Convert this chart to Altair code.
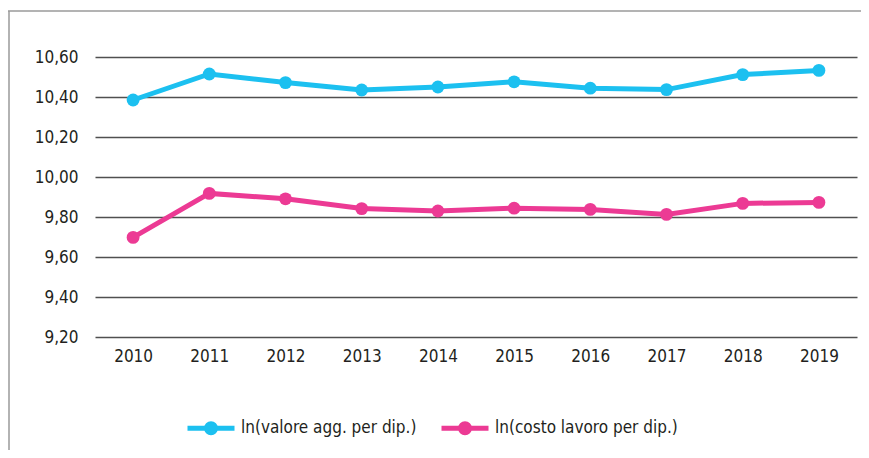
import altair as alt
import pandas as pd

years = ["2010", "2011", "2012", "2013", "2014", "2015", "2016", "2017", "2018", "2019"]
valore = [10.385, 10.515, 10.472, 10.435, 10.45, 10.476, 10.444, 10.437, 10.512, 10.533]
costo = [9.698, 9.918, 9.891, 9.842, 9.830, 9.844, 9.838, 9.813, 9.868, 9.873]
series_names = ["ln(valore agg. per dip.)", "ln(costo lavoro per dip.)"]
series_colors = ["#1cc0f0", "#ec3a94"]
y_ticks = [9.2, 9.4, 9.6, 9.8, 10.0, 10.2, 10.4, 10.6]

rows = []
for name, vals in zip(series_names, [valore, costo]):
    for yr, v in zip(years, vals):
        rows.append({"anno": yr, "serie": name, "valore": v})
df = pd.DataFrame(rows)

FONT = "DejaVu Sans Condensed, sans-serif"
TXT = "#231f20"
FS = 17

# legend symbol: line with a dot (stroke-only path)
sym = ("M-1,0 L1,0 "
       "M-0.19,0 A0.19,0.19 0 1,1 0.19,0 A0.19,0.19 0 1,1 -0.19,0 "
       "M-0.065,0 A0.065,0.065 0 1,1 0.065,0 A0.065,0.065 0 1,1 -0.065,0")

lines = alt.Chart(df).mark_line(
    strokeWidth=5,
    point=alt.OverlayMarkDef(filled=True, size=165, opacity=1),
).encode(
    x=alt.X("anno:O", sort=years, scale=alt.Scale(type="point", padding=0.5),
            axis=alt.Axis(title=None, labelAngle=0, ticks=False, domain=False,
                          grid=False, labelPadding=11)),
    y=alt.Y("valore:Q", scale=alt.Scale(domain=[9.2, 10.6], nice=False, zero=False),
            axis=alt.Axis(title=None, values=y_ticks, ticks=False, domain=False,
                          grid=True, labelPadding=17,
                          labelExpr="replace(format(datum.value, '.2f'), '.', ',')")),
    color=alt.Color("serie:N", sort=series_names,
                    scale=alt.Scale(domain=series_names, range=series_colors),
                    legend=alt.Legend(title=None, orient="none", direction="horizontal",
                                      legendX=90, legendY=345,
                                      symbolType=sym, symbolSize=2209,
                                      symbolStrokeWidth=5, labelOffset=4,
                                      labelLimit=0,
                                      columnPadding=14, padding=0)),
)

frame_df = pd.DataFrame({"k": [0]})
frame_top = alt.Chart(frame_df).mark_rule(color="#9a9a9a", strokeWidth=1.5).encode(
    x=alt.value(-87), x2=alt.value(780), y=alt.value(-46))
frame_left = alt.Chart(frame_df).mark_rule(color="#9a9a9a", strokeWidth=1.5).encode(
    x=alt.value(-86), y=alt.value(-46), y2=alt.value(420))

chart = alt.layer(frame_top, frame_left, lines).properties(
    width=762, height=280,
    autosize=alt.AutoSizeParams(type="none"),
    padding={"left": 87, "top": 49, "right": 4, "bottom": 113},
).configure_view(stroke=None).configure_axis(
    labelFont=FONT, labelFontSize=FS, labelColor=TXT,
    gridColor="#505050", gridWidth=1.5, gridOpacity=1,
).configure_legend(
    labelFont=FONT, labelFontSize=FS, labelColor=TXT,
)

chart.save("out.html", embed_options={"renderer": "svg", "actions": False})
